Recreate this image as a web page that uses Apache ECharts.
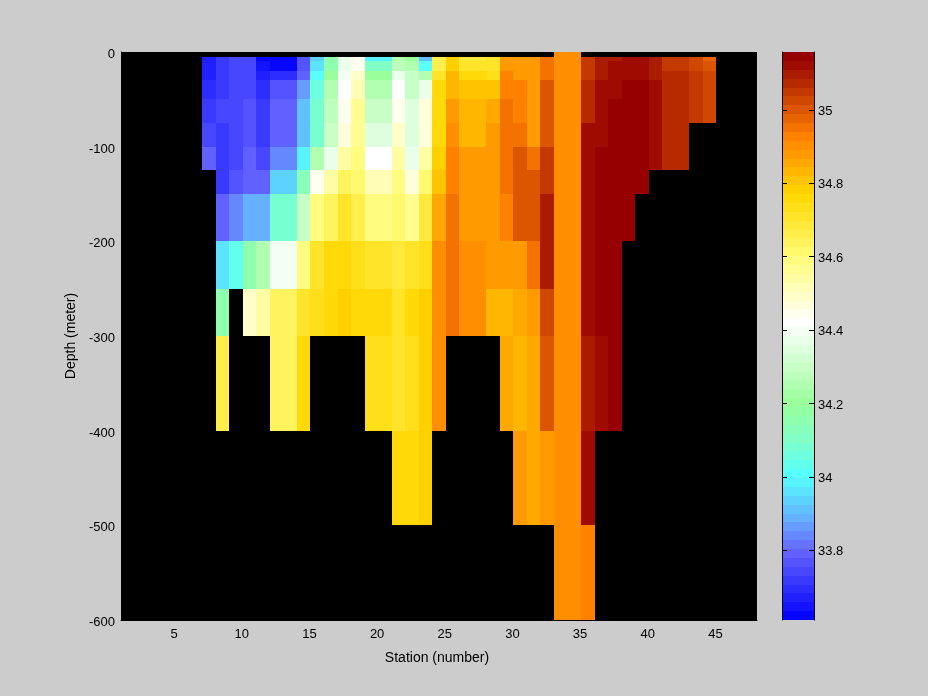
<!DOCTYPE html>
<html><head><meta charset="utf-8">
<style>html,body{margin:0;padding:0;background:#ccc}#c{width:928px;height:696px}</style>
<script src="https://cdn.jsdelivr.net/npm/echarts@6/dist/echarts.min.js"></script>
</head><body><div id="c"></div>
<script>
const _ = null;
const firstStation = 7;
const depthEdges = [0,-5,-10,-20,-30,-50,-75,-100,-125,-150,-200,-250,-300,-400,-500,-600];
const row0 = [_,_,_,_,_,_,_,_,_,_,_,_,_,_,_,_,_,_,_,_,_,_,_,_,_,_,34.91,34.91];
const row1 = [33.67,33.72,33.75,33.75,33.62,33.62,33.62,33.76,33.93,34.15,34.36,34.45,33.98,33.98,34.26,34.2,33.91,34.66,34.79,34.68,34.68,34.7,34.88,34.89,34.87,34.96,34.91,34.91,35.06,35.1,35.1,35.12,35.12,35.09,35.06,35.06,35.03,34.98];
const row2 = [33.67,33.72,33.75,33.75,33.65,33.62,33.62,33.76,33.95,34.15,34.36,34.45,34.1,34.1,34.28,34.24,34.02,34.66,34.79,34.7,34.7,34.72,34.88,34.89,34.87,34.96,34.91,34.91,35.06,35.1,35.12,35.12,35.12,35.09,35.06,35.06,35.03,35.01];
const row3 = [33.66,33.72,33.75,33.75,33.66,33.7,33.7,33.8,34.02,34.2,34.4,34.5,34.2,34.2,34.37,34.31,34.26,34.72,34.82,34.75,34.75,34.74,34.92,34.88,34.87,34.96,34.91,34.91,35.06,35.1,35.12,35.12,35.12,35.1,35.08,35.08,35.05,35.03];
const row4 = [33.7,33.72,33.75,33.75,33.69,33.76,33.76,33.87,34.05,34.24,34.42,34.52,34.24,34.24,34.42,34.31,34.37,34.75,34.84,34.8,34.8,34.8,34.92,34.92,34.88,34.99,34.91,34.91,35.08,35.11,35.11,35.14,35.14,35.12,35.08,35.08,35.05,35.03];
const row5 = [33.72,33.75,33.75,33.76,33.71,33.79,33.79,33.92,34.08,34.27,34.45,34.56,34.29,34.29,34.45,34.35,34.46,34.75,34.87,34.83,34.83,34.85,34.96,34.92,34.88,35.01,34.91,34.91,35.08,35.11,35.14,35.14,35.14,35.12,35.08,35.08,35.05,35.03];
const row6 = [33.75,33.72,33.75,33.77,33.71,33.79,33.79,33.92,34.08,34.3,34.47,34.56,34.35,34.35,34.49,34.35,34.48,34.76,34.9,34.84,34.84,34.87,34.96,34.96,34.88,35.01,34.91,34.91,35.11,35.11,35.14,35.14,35.14,35.12,35.08,35.08];
const row7 = [33.78,33.72,33.75,33.78,33.74,33.84,33.84,33.99,34.24,34.38,34.55,34.58,34.41,34.41,34.53,34.37,34.55,34.79,34.93,34.87,34.87,34.87,34.96,34.99,34.96,35.05,34.91,34.91,35.12,35.14,35.14,35.14,35.14,35.12,35.08,35.08];
const row8 = [_,33.72,33.76,33.8,33.8,33.94,33.94,34.12,34.44,34.55,34.64,34.62,34.52,34.52,34.6,34.47,34.62,34.8,34.92,34.88,34.88,34.88,34.96,35.01,34.99,35.06,34.91,34.91,35.12,35.14,35.14,35.14,35.14];
const row9 = [_,33.78,33.83,33.88,33.88,34.08,34.08,34.31,34.58,34.65,34.7,34.66,34.6,34.6,34.62,34.57,34.68,34.85,34.96,34.88,34.88,34.89,34.93,34.99,35.01,35.09,34.91,34.91,35.12,35.14,35.14,35.14];
const row10 = [_,33.95,34.04,34.16,34.24,34.4,34.4,34.6,34.72,34.75,34.77,34.73,34.7,34.7,34.68,34.71,34.74,34.91,34.96,34.9,34.9,34.88,34.88,34.88,34.96,35.09,34.91,34.91,35.12,35.14,35.14];
const row11 = [_,34.15,_,34.49,34.55,34.63,34.63,34.7,34.73,34.75,34.79,34.75,34.75,34.75,34.72,34.77,34.79,34.91,34.96,34.9,34.9,34.83,34.83,34.85,34.89,35.03,34.91,34.91,35.12,35.14,35.14];
const row12 = [_,34.67,_,_,_,34.63,34.63,34.75,_,_,_,_,34.73,34.73,34.71,34.73,34.79,34.91,_,_,_,_,34.85,34.83,34.85,34.99,34.91,34.91,35.1,35.12,35.14];
const row13 = [_,_,_,_,_,_,_,_,_,_,_,_,_,_,34.75,34.75,34.79,_,_,_,_,_,_,34.88,34.85,34.88,34.91,34.91,35.12];
const row14 = [_,_,_,_,_,_,_,_,_,_,_,_,_,_,_,_,_,_,_,_,_,_,_,_,_,_,34.91,34.91,34.93];
const salinityRows = [row0,row1,row2,row3,row4,row5,row6,row7,row8,row9,row10,row11,row12,row13,row14];

const stationTicks = [5,10,15,20,25,30,35,40,45];
const salinityTicks = [33.8,34,34.2,34.4,34.6,34.8,35];
const salMin = 33.61, salMax = 35.158, bandCount = 64;
const mapValues = [33.61,33.8,33.88,34,34.1,34.2,34.42,34.6,34.77,34.93,35.06,35.14,35.158];
const mapColors = [[0,0,255],[102,102,255],[102,170,255],[85,255,255],[127,255,200],[153,255,153],[255,255,255],[255,252,120],[255,215,0],[255,128,0],[190,50,0],[150,0,0],[150,0,0]];

function bandIndex(v){return Math.max(0,Math.min(bandCount-1,Math.floor((v-salMin)/(salMax-salMin)*bandCount)));}
function bandColor(i){
  const v = salMin+(i+0.5)*(salMax-salMin)/bandCount;
  let k = 0;
  while(k<mapValues.length-2 && v>mapValues[k+1]) k++;
  const t = Math.max(0,Math.min(1,(v-mapValues[k])/(mapValues[k+1]-mapValues[k])));
  const c = mapColors[k].map((a,j)=>Math.round(a+(mapColors[k+1][j]-a)*t));
  return 'rgb('+c.join(',')+')';
}
const cells = [];
salinityRows.forEach((r,ri)=>r.forEach((v,ci)=>{
  if(v!==null) cells.push([firstStation+ci,firstStation+ci+1,depthEdges[ri],depthEdges[ri+1],v]);
}));
const bands = [];
for(let i=0;i<bandCount;i++){
  const w=(salMax-salMin)/bandCount;
  bands.push([0,1,salMin+i*w,salMin+(i+1)*w,salMin+(i+0.5)*w]);
}
function rectItem(params,api){
  const a=api.coord([api.value(0),api.value(2)]), b=api.coord([api.value(1),api.value(3)]);
  const x=Math.round(a[0]),y=Math.round(a[1]);
  return {type:'rect',shape:{x:x,y:y,width:Math.round(b[0])-x,height:Math.round(b[1])-y},
    style:{fill:bandColor(bandIndex(api.value(4))),stroke:null}};
}
const font='"Liberation Sans", Arial, sans-serif';
const txt={color:'#000',fontFamily:font,fontSize:13};
const nameTxt={color:'#000',fontFamily:font,fontSize:14};
const chart=echarts.init(document.getElementById('c'),null,{renderer:'canvas'});
chart.setOption({
  animation:false,
  backgroundColor:'#cccccc',
  grid:[
    {left:121,top:52,width:636,height:568,show:true,backgroundColor:'#000',borderColor:'#000',borderWidth:0},
    {left:782,top:52,width:32,height:568,show:true,backgroundColor:'transparent',borderWidth:0}
  ],
  xAxis:[
    {type:'value',gridIndex:0,min:1,max:48,position:'bottom',name:'Station (number)',nameLocation:'middle',nameGap:31,nameTextStyle:Object.assign({padding:[0,4,0,0]},nameTxt),
     splitLine:{show:false},axisLine:{show:true,onZero:false,lineStyle:{color:'#000'}},
     axisTick:{show:true,inside:true,length:6,customValues:stationTicks,lineStyle:{color:'#000'}},
     axisLabel:Object.assign({margin:8,customValues:stationTicks,padding:[0,2,0,0]},txt)},
    {type:'value',gridIndex:1,min:0,max:1,show:false}
  ],
  yAxis:[
    {type:'value',gridIndex:0,min:-600,max:0,interval:100,name:'Depth (meter)',nameLocation:'middle',nameGap:38,nameRotate:90,nameTextStyle:nameTxt,
     splitLine:{show:false},axisLine:{show:true,onZero:false,lineStyle:{color:'#000'}},
     axisTick:{show:true,inside:true,length:6,lineStyle:{color:'#000'}},
     axisLabel:Object.assign({margin:6,formatter:'{a|{value}}',rich:{a:Object.assign({padding:[5,0,0,0]},txt)}},txt)},
    {type:'value',gridIndex:1,min:salMin,max:salMax,position:'right',
     splitLine:{show:false},axisLine:{show:true,onZero:false,lineStyle:{color:'#000'}},
     axisTick:{show:true,inside:true,length:5,customValues:salinityTicks,lineStyle:{color:'#000'}},
     axisLabel:Object.assign({margin:4,customValues:salinityTicks,formatter:v=>'{a|'+(+(+v).toFixed(1))+'}',rich:{a:Object.assign({padding:[3,0,0,0]},txt)}},txt),z:5},
    {type:'value',gridIndex:1,min:salMin,max:salMax,position:'left',
     splitLine:{show:false},axisLine:{show:true,onZero:false,lineStyle:{color:'#000'}},
     axisTick:{show:true,inside:true,length:5,customValues:salinityTicks,lineStyle:{color:'#000'}},
     axisLabel:{show:false},z:5}
  ],
  series:[
    {type:'custom',xAxisIndex:0,yAxisIndex:0,coordinateSystem:'cartesian2d',renderItem:rectItem,data:cells,silent:true,clip:true,
     encode:{x:[0,1],y:[2,3]}},
    {type:'custom',xAxisIndex:1,yAxisIndex:1,coordinateSystem:'cartesian2d',renderItem:rectItem,data:bands,silent:true,clip:true,
     encode:{x:[0,1],y:[2,3]}}
  ]
});
</script></body></html>
